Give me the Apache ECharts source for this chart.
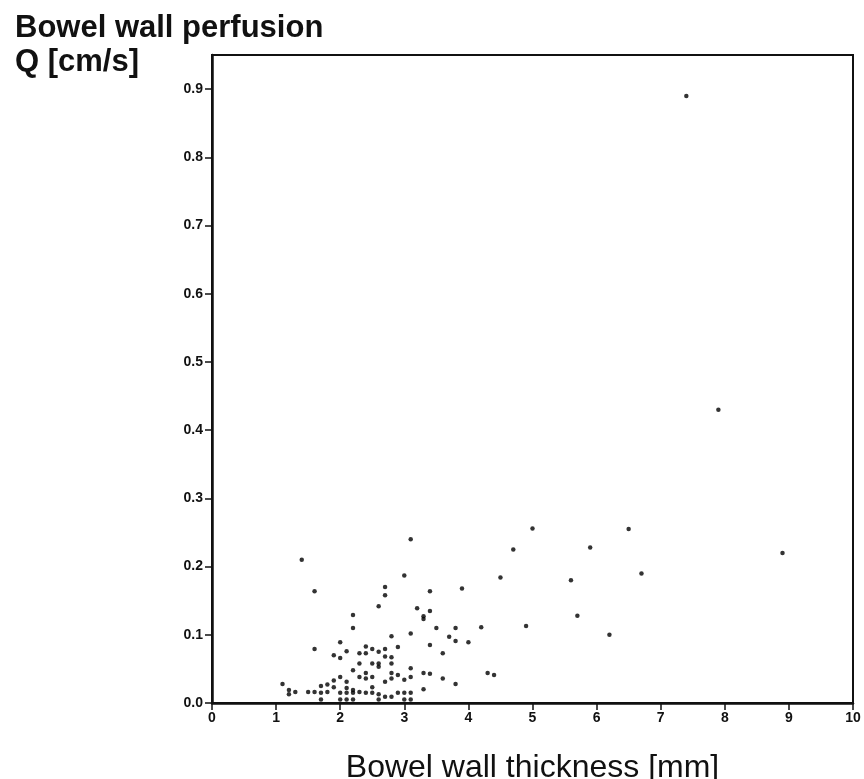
<!DOCTYPE html>
<html>
<head>
<meta charset="utf-8">
<script src="https://cdn.jsdelivr.net/npm/echarts@6/dist/echarts.min.js"></script>
<style>
html,body{margin:0;padding:0;background:#fff;}
#chart{width:864px;height:779px;}
</style>
</head>
<body>
<div id="chart"></div>
<script>
const thickness = [7.4,7.9,8.9,6.5,6.7,5.9,6.2,5.6,5.7,5.0,4.7,4.5,4.9,
  1.4,1.6,1.6,2.0,1.9,2.0,2.1,1.1,1.2,1.2,1.3,1.5,1.6,1.7,1.7,1.8,1.8,1.9,1.9,2.0,2.1,2.1,2.0,2.1,
  3.1,3.0,2.7,2.7,3.4,3.9,2.6,3.2,3.4,3.3,3.3,2.2,2.2,3.5,3.8,4.2,2.8,3.1,3.7,3.8,4.0,2.9,3.4,3.6,
  2.4,2.3,2.4,2.5,2.6,2.7,2.7,2.8,2.8,2.6,2.6,2.5,2.3,2.2,2.3,2.4,2.4,2.5,2.8,2.8,2.7,2.9,3.1,3.1,3.0,
  3.3,3.4,3.6,3.8,3.3,2.2,2.2,2.3,2.4,2.5,2.5,2.6,2.7,2.8,2.9,3.0,3.1,4.3,4.4,
  2.0,2.1,3.0,3.1,1.7,2.2,2.6];
const perfusion = [0.89,0.43,0.22,0.255,0.19,0.228,0.1,0.18,0.128,0.256,0.225,0.184,0.113,
  0.21,0.164,0.079,0.089,0.07,0.066,0.076,0.028,0.019,0.013,0.016,0.016,0.016,0.015,0.025,0.027,0.016,0.033,0.023,0.038,0.031,0.022,0.015,0.015,
  0.24,0.187,0.17,0.158,0.164,0.168,0.142,0.139,0.135,0.127,0.123,0.129,0.11,0.11,0.11,0.111,0.098,0.102,0.097,0.091,0.089,0.082,0.085,0.073,
  0.083,0.073,0.073,0.079,0.075,0.079,0.068,0.067,0.058,0.058,0.053,0.058,0.058,0.048,0.038,0.044,0.036,0.038,0.044,0.036,0.031,0.041,0.051,0.038,0.034,
  0.044,0.043,0.036,0.028,0.02,0.019,0.015,0.016,0.015,0.023,0.015,0.013,0.009,0.009,0.015,0.015,0.015,0.044,0.041,
  0.005,0.005,0.005,0.005,0.005,0.005,0.005];
const yTicks = [0,0.1,0.2,0.3,0.4,0.5,0.6,0.7,0.8,0.9];
const xTicks = [0,1,2,3,4,5,6,7,8,9,10];

const pts = thickness.map((x,i)=>[x, perfusion[i]]);
const chart = echarts.init(document.getElementById('chart'));
const font = 'Liberation Sans, Arial, sans-serif';
chart.setOption({
  animation:false,
  backgroundColor:'#fff',
  title:{
    text:'Bowel wall perfusion\nQ [cm/s]',
    left:10, top:6,
    textStyle:{fontFamily:font, fontSize:31, fontWeight:'bold', color:'#111', lineHeight:34}
  },
  grid:{left:212, right:11, top:55, bottom:76, show:true, borderColor:'#111', borderWidth:2,
    backgroundColor:'transparent', outerBoundsMode:'none', containLabel:false},
  xAxis:{
    type:'value', min:0, max:10, interval:1,
    name:'Bowel wall thickness [mm]', nameLocation:'middle', nameGap:49,
    nameTextStyle:{fontFamily:font, fontSize:32, color:'#111'},
    splitLine:{show:false},
    axisLine:{lineStyle:{color:'#111', width:2.5}},
    axisTick:{length:7, lineStyle:{color:'#111', width:1.5}},
    axisLabel:{fontFamily:font, fontSize:14, fontWeight:'bold', color:'#111', margin:8,
      customValues:xTicks}
  },
  yAxis:{
    type:'value', min:0, max:0.95, interval:0.1,
    splitLine:{show:false},
    axisLine:{lineStyle:{color:'#111', width:2.5}},
    axisTick:{length:7, lineStyle:{color:'#111', width:1.5}, customValues:yTicks},
    axisLabel:{fontFamily:font, fontSize:14, fontWeight:'bold', color:'#111', margin:9,
      customValues:yTicks, formatter:v=>v.toFixed(1)}
  },
  series:[{
    type:'scatter', data:pts, symbol:'circle', symbolSize:4.5,
    itemStyle:{color:'#000'}
  }]
});
</script>
</body>
</html>
